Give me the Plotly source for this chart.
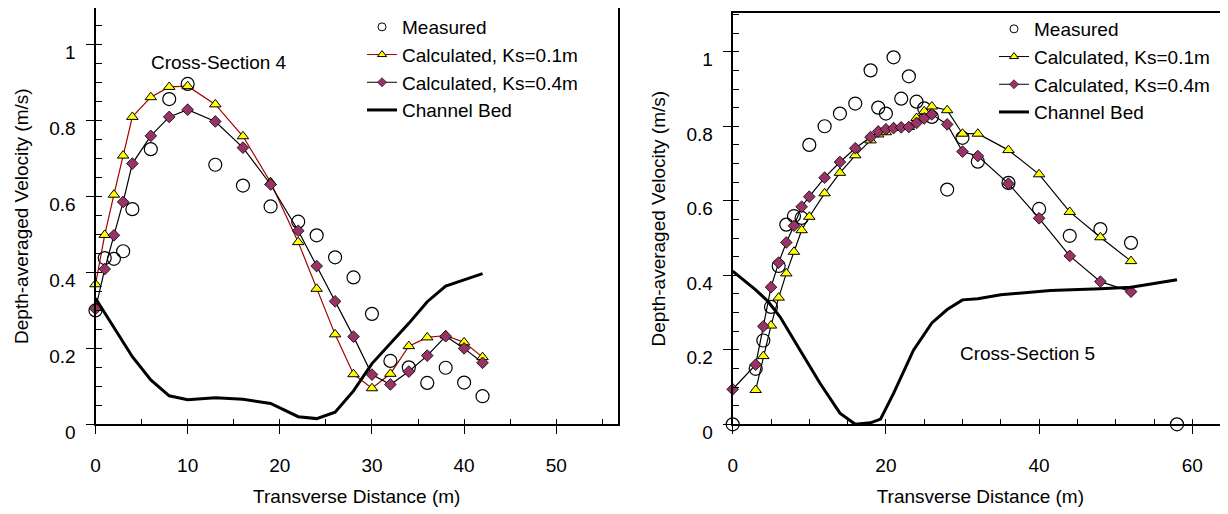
import plotly.graph_objects as go

# ---------------- Cross-Section 4 (left panel) ----------------
cs4_meas_x = [0, 1, 2, 3, 4, 6, 8, 10, 13, 16, 19, 22, 24, 26, 28, 30, 32, 34, 36, 38, 40, 42]
cs4_meas_v = [0.30, 0.438, 0.436, 0.456, 0.567, 0.725, 0.857, 0.897, 0.684, 0.629, 0.574,
              0.534, 0.498, 0.44, 0.387, 0.291, 0.167, 0.15, 0.109, 0.149, 0.11, 0.074]
cs4_calc_x = [0, 1, 2, 3, 4, 6, 8, 10, 13, 16, 19, 22, 24, 26, 28, 30, 32, 34, 36, 38, 40, 42]
cs4_k01_v = [0.369, 0.499, 0.605, 0.708, 0.81, 0.862, 0.889, 0.891, 0.843, 0.759, 0.638,
             0.48, 0.357, 0.237, 0.132, 0.095, 0.133, 0.206, 0.229, 0.234, 0.216, 0.177]
cs4_k04_v = [0.304, 0.409, 0.498, 0.586, 0.687, 0.76, 0.81, 0.829, 0.798, 0.729, 0.632,
             0.51, 0.417, 0.324, 0.231, 0.131, 0.105, 0.139, 0.181, 0.232, 0.2, 0.162]
cs4_bed_x = [0, 4, 6, 8, 10, 13, 16, 19, 22, 24, 26, 28, 30, 34, 36, 38, 42]
cs4_bed_v = [0.332, 0.178, 0.117, 0.075, 0.065, 0.07, 0.066, 0.055, 0.02, 0.015, 0.032,
             0.088, 0.16, 0.266, 0.323, 0.364, 0.397]

# ---------------- Cross-Section 5 (right panel) ----------------
cs5_meas_x = [0, 3, 4, 5, 6, 7, 8, 9, 10, 12, 14, 16, 18, 19, 20, 21, 22, 23, 24, 25, 26,
              28, 30, 32, 36, 40, 44, 48, 52, 58]
cs5_meas_v = [0.0, 0.149, 0.225, 0.315, 0.425, 0.536, 0.559, 0.554, 0.75, 0.8, 0.834, 0.861,
              0.95, 0.85, 0.834, 0.985, 0.874, 0.934, 0.866, 0.848, 0.825, 0.63, 0.769, 0.705,
              0.648, 0.578, 0.506, 0.524, 0.487, 0.0]
cs5_k01_x = [3, 4, 5, 6, 7, 8, 9, 10, 12, 14, 16, 18, 19, 20, 21, 22, 23, 24, 25, 26, 28,
             30, 32, 36, 40, 44, 48, 52]
cs5_k01_v = [0.092, 0.183, 0.265, 0.34, 0.405, 0.463, 0.521, 0.557, 0.62, 0.675, 0.722, 0.762,
             0.778, 0.784, 0.796, 0.798, 0.798, 0.822, 0.84, 0.853, 0.843, 0.78, 0.78, 0.736,
             0.671, 0.57, 0.502, 0.438]
cs5_k04_x = [0, 3, 4, 5, 6, 7, 8, 9, 10, 12, 14, 16, 18, 19, 20, 21, 22, 23, 24, 25, 26, 28,
             30, 32, 36, 40, 44, 48, 52]
cs5_k04_v = [0.094, 0.16, 0.263, 0.368, 0.434, 0.488, 0.533, 0.584, 0.611, 0.662, 0.704, 0.741,
             0.771, 0.786, 0.792, 0.795, 0.797, 0.798, 0.809, 0.821, 0.832, 0.805, 0.732, 0.72,
             0.646, 0.553, 0.452, 0.383, 0.356]
cs5_bed_x = [0, 3, 4.6, 6.2, 8.8, 11.4, 14, 16, 18, 19.3, 21, 23.6, 26, 28, 30, 32, 35, 41.5,
             48, 52, 58]
cs5_bed_v = [0.411, 0.361, 0.33, 0.288, 0.199, 0.11, 0.03, 0.0, 0.004, 0.014, 0.083, 0.199,
             0.272, 0.308, 0.334, 0.337, 0.348, 0.359, 0.364, 0.368, 0.388]

names = ["Measured", "Calculated, Ks=0.1m", "Calculated, Ks=0.4m", "Channel Bed"]
y_ticks = [0, 0.2, 0.4, 0.6, 0.8, 1]
y_ticktext = ["0", "0.2", "0.4", "0.6", "0.8", "1"]

FONT = "Liberation Sans, Arial, sans-serif"
# the page body has an 8px margin, so the figure is drawn 8px in from the window corner
OFF = 8
WIN_W, WIN_H = 1228, 514
W, H = WIN_W - OFF, WIN_H - OFF
YELLOW = "#ffff00"
PLUM = "#993366"
DARKRED = "#a00000"

fig = go.Figure()


def add_panel(xa, ya, legend, meas_x, meas_v, k01_x, k01_v, k04_x, k04_v, bed_x, bed_v, k01_line):
    common = dict(xaxis=xa, yaxis=ya, cliponaxis=False, showlegend=False)
    fig.add_trace(go.Scatter(x=meas_x, y=meas_v, mode="markers", name=names[0],
                             marker=dict(symbol="circle-open", size=13, color="black",
                                         line=dict(width=1.2)), **common))
    fig.add_trace(go.Scatter(x=k01_x, y=k01_v, mode="lines+markers", name=names[1],
                             line=dict(color=k01_line, width=1.2),
                             marker=dict(symbol="triangle-up", size=10, color=YELLOW,
                                         line=dict(color="black", width=1)), **common))
    fig.add_trace(go.Scatter(x=k04_x, y=k04_v, mode="lines+markers", name=names[2],
                             line=dict(color="black", width=1.2),
                             marker=dict(symbol="diamond", size=9, color=PLUM,
                                         line=dict(color="black", width=0.8)), **common))
    fig.add_trace(go.Scatter(x=bed_x, y=bed_v, mode="lines", name=names[3],
                             line=dict(color="black", width=3), **common))
    # legend entries (smaller symbols, as in the original legend)
    lg = dict(xaxis=xa, yaxis=ya, legend=legend, showlegend=True, hoverinfo="skip")
    fig.add_trace(go.Scatter(x=[None], y=[None], mode="markers", name=names[0],
                             marker=dict(symbol="circle-open", size=8, color="black",
                                         line=dict(width=1)), legendgroup=legend + "a", **lg))
    fig.add_trace(go.Scatter(x=[None], y=[None], mode="lines+markers", name=names[1],
                             line=dict(color=k01_line, width=1),
                             marker=dict(symbol="triangle-up", size=8, color=YELLOW,
                                         line=dict(color="black", width=1)),
                             legendgroup=legend + "b", **lg))
    fig.add_trace(go.Scatter(x=[None], y=[None], mode="lines+markers", name=names[2],
                             line=dict(color="black", width=1),
                             marker=dict(symbol="diamond", size=7, color=PLUM,
                                         line=dict(color="black", width=0.6)),
                             legendgroup=legend + "c", **lg))
    fig.add_trace(go.Scatter(x=[None], y=[None], mode="lines", name=names[3],
                             line=dict(color="black", width=3),
                             legendgroup=legend + "d", **lg))


add_panel("x", "y", "legend", cs4_meas_x, cs4_meas_v, cs4_calc_x, cs4_k01_v,
          cs4_calc_x, cs4_k04_v, cs4_bed_x, cs4_bed_v, DARKRED)
add_panel("x2", "y2", "legend2", cs5_meas_x, cs5_meas_v, cs5_k01_x, cs5_k01_v,
          cs5_k04_x, cs5_k04_v, cs5_bed_x, cs5_bed_v, "black")


def px_x(p):
    # p: pixel column in the window
    return min(1.0, max(0.0, (p - OFF) / W))


def px_y(p):
    # p: pixel row in the window
    return min(1.0, max(0.0, 1 - (p - OFF) / H))


tickfont = dict(family=FONT, size=19, color="black")
titlefont = dict(family=FONT, size=19, color="black")


def xaxis(rng, dtick, mdtick, domain):
    return dict(domain=domain, range=rng, dtick=dtick, tick0=0, showline=True, linecolor="black",
                linewidth=2, mirror=True, showgrid=False, zeroline=False, ticks="outside",
                ticklen=8, tickwidth=1, tickcolor="black", tickfont=tickfont,
                ticklabelstandoff=15, automargin=False,
                minor=dict(dtick=mdtick, tick0=0, ticks="inside", ticklen=5, tickcolor="black",
                           tickwidth=1, showgrid=False),
                title=dict(text="Transverse Distance (m)", font=titlefont, standoff=15))


def yaxis(rng, domain, anchor, mirror):
    return dict(domain=domain, range=rng, tickvals=y_ticks, ticktext=y_ticktext, anchor=anchor,
                showline=True, linecolor="black", linewidth=2, mirror=mirror, showgrid=False,
                zeroline=False, ticks="outside", ticklen=8, tickwidth=1, tickcolor="black",
                tickfont=tickfont, ticklabelstandoff=6, ticklabelshift=8, automargin=False,
                minor=dict(dtick=0.05, tick0=0, ticks="inside", ticklen=6, tickcolor="black",
                           tickwidth=1, showgrid=False),
                title=dict(text="Depth-averaged Velocity (m/s)", font=titlefont, standoff=16))


legend_common = dict(font=dict(family=FONT, size=19, color="black"), bgcolor="rgba(0,0,0,0)",
                     borderwidth=0, tracegroupgap=0, itemsizing="trace",
                     xanchor="left", yanchor="top")

fig.update_layout(
    width=W, height=H,
    margin=dict(l=0, r=0, t=0, b=0, autoexpand=False),
    paper_bgcolor="white", plot_bgcolor="white",
    font=dict(family=FONT, size=19, color="black"),
    xaxis=xaxis([0, 56.7], 10, 5, [px_x(95.5), px_x(618)]) | dict(anchor="y"),
    yaxis=yaxis([0, 1.097], [px_y(424.3), px_y(7)], "x", True),
    xaxis2=xaxis([0, 64.66], 20, 5, [px_x(732.7), 1.0]) | dict(anchor="y2"),
    yaxis2=yaxis([0, 1.104], [px_y(424.3), px_y(13)], "x2", False),
    legend=legend_common | dict(x=px_x(362), y=px_y(8)),
    legend2=legend_common | dict(x=px_x(994), y=px_y(10)),
    annotations=[
        dict(text="Cross-Section 4", x=13.4, y=0.953, xref="x", yref="y", showarrow=False,
             font=dict(family=FONT, size=19, color="black")),
        dict(text="Cross-Section 5", x=38.5, y=0.19, xref="x2", yref="y2", showarrow=False,
             font=dict(family=FONT, size=19, color="black")),
    ],
)

fig.write_html("out.html")
